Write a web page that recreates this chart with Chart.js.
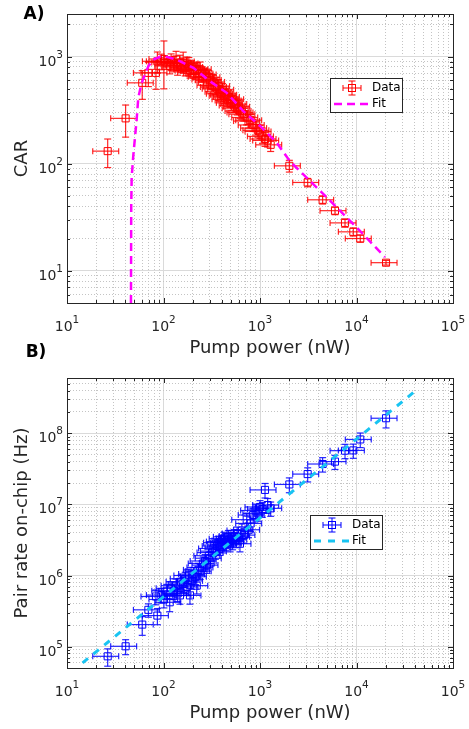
<!DOCTYPE html>
<html>
<head>
 <title>CAR and pair rate vs pump power</title>
 <script src="https://cdn.jsdelivr.net/npm/chart.js"></script>
 <style>
  body { margin: 0; background: #fff; }
  canvas { position: absolute; left: 0; }
  #carChart { top: 0; }
  #rateChart { top: 336px; }
 </style>
</head>
<body>
 <canvas id="carChart" width="469" height="364"></canvas>
 <canvas id="rateChart" width="469" height="393"></canvas>

 <script>
  // Pump power (nW), same measurements in both panels
  const pumpPower = [26.4, 40.5, 60.2, 69.7, 83.5, 86.4, 95, 101, 108, 116, 120, 128, 135, 140, 148, 152, 160, 168, 175, 183,
   188, 195, 205, 214, 221, 230, 240, 250, 258, 270, 282, 295, 305, 318, 330, 345, 360, 372, 385, 398,
   410, 425, 440, 455, 470, 490, 505, 520, 540, 560, 580, 600, 620, 650, 680, 728, 760, 800, 850, 900,
   950, 1000, 1060, 1127, 1200, 1290, 2014, 3119, 4456, 5984, 7603, 9270, 10940, 20230];
  const pumpRelErr = 0.3;   // horizontal error bars are +-30 %

  // Panel A: coincidence-to-accidental ratio
  const car = [131, 265, 569, 705, 705, 904, 904, 950, 880, 820, 900, 860, 940, 800, 880, 830, 900, 780, 860, 820,
   740, 800, 760, 740, 760, 700, 760, 690, 650, 680, 610, 640, 600, 540, 580, 520, 500, 530, 470, 450,
   490, 430, 440, 400, 420, 390, 370, 400, 350, 360, 330, 340, 310, 300, 290, 270, 250, 255, 230, 215,
   205, 200, 180, 170, 165, 150, 95.5, 66.8, 46, 36.4, 28, 23.1, 20, 11.9];
  const carErr = [39, 88, 170, 180, 210, 200, 150, 450, 120, 130, 160, 140, 180, 130, 150, 120, 200, 120, 130, 160,
   110, 120, 130, 110, 120, 120, 130, 110, 110, 100, 100, 100, 100, 90, 90, 80, 80, 80, 70, 70,
   70, 65, 60, 60, 60, 55, 55, 55, 50, 50, 45, 45, 45, 40, 40, 40, 35, 35, 30, 30,
   28, 28, 25, 25, 22, 20, 12, 6, 4, 3, 2.5, 2, 1.5, 0.6];
  const carFitX = [46.0, 46.3, 46.8, 48.6, 52.7, 54.8, 59.4, 69.7, 78.3, 92, 105, 137, 204, 303, 452, 671, 1000, 1489, 2047, 4355, 10000, 19700];
  const carFitY = [5, 40, 74.5, 118, 259, 413, 569, 813, 938, 995, 1000, 938, 785, 589, 459, 310, 225, 157, 105, 54, 25.5, 13.4];

  // Panel B: on-chip pair rate (Hz)
  const pairRate = [7.3e4, 1.01e5, 2.04e5, 3.29e5, 5.07e5, 2.73e5, 5.3e5, 4.6e5, 6.1e5, 4.2e5, 6.6e5, 6.0e5, 7.2e5, 5.6e5, 5.25e5, 8.2e5, 7.6e5, 9.0e5, 6.9e5, 1.0e6,
   5.25e5, 8.4e5, 1.05e6, 9.6e5, 7.2e5, 1.2e6, 1.15e6, 1.3e6, 1.48e6, 1.6e6, 1.4e6, 1.9e6, 1.75e6, 2.1e6, 2.4e6, 2.2e6, 2.6e6, 2.9e6, 2.5e6, 3.0e6,
   2.7e6, 3.3e6, 2.9e6, 3.1e6, 3.5e6, 2.8e6, 3.3e6, 3.0e6, 3.6e6, 3.2e6, 3.9e6, 3.5e6, 2.8e6, 4.3e6, 3.7e6, 6.1e6, 4.4e6, 5.4e6, 7.1e6, 8.2e6,
   7.5e6, 9.2e6, 8.6e6, 1.6e7, 9.8e6, 8.8e6, 1.91e7, 2.67e7, 3.7e7, 4.0e7, 5.7e7, 5.75e7, 8.2e7, 1.63e8];
  const pairRateErr = [2.0e4, 2.4e4, 6e4, 7e4, 1.2e5, 7e4, 1.2e5, 1.1e5, 1.4e5, 1.1e5, 1.5e5, 1.4e5, 1.7e5, 1.3e5, 1.3e5, 1.9e5, 1.8e5, 2.1e5, 1.6e5, 2.3e5,
   1.3e5, 2e5, 2.4e5, 2.2e5, 1.7e5, 2.8e5, 2.7e5, 3e5, 3.4e5, 3.7e5, 3.3e5, 4.4e5, 4e5, 4.9e5, 5.5e5, 5.1e5, 6e5, 6.7e5, 5.8e5, 7e5,
   6.2e5, 7.6e5, 6.7e5, 7.2e5, 8e5, 6.5e5, 7.6e5, 7e5, 8.3e5, 7.4e5, 9e5, 8e5, 6.5e5, 1e6, 8.5e5, 1.4e6, 1e6, 1.25e6, 1.6e6, 1.9e6,
   1.7e6, 2.1e6, 2e6, 3.7e6, 2.3e6, 2e6, 4.5e6, 6e6, 8.5e6, 9e6, 1.3e7, 1.3e7, 1.9e7, 4.4e7];
  const rateFitX = [14.5, 38800];
  const rateFitY = [5.9e4, 3.74e8];

  // decade exponents that get a "10^n" label
  const xDecades = [1, 2, 3, 4, 5];
  const carDecades = [1, 2, 3];
  const rateDecades = [5, 6, 7, 8];

  const FONT = '"DejaVu Sans", Verdana, sans-serif';
  const AXIS_COLOR = '#262626';

  // 1..9 x 10^n between min and max
  function logTicks(min, max) {
   const out = [];
   for (let e = Math.floor(Math.log10(min)); e <= Math.ceil(Math.log10(max)); e++) {
    for (let m = 1; m < 10; m++) {
     const v = m * Math.pow(10, e);
     if (v >= min * 0.9999 && v <= max * 1.0001) out.push({ value: v, major: m === 1 });
    }
   }
   return out;
  }

  function line(ctx, x0, y0, x1, y1) {
   ctx.beginPath(); ctx.moveTo(x0, y0); ctx.lineTo(x1, y1); ctx.stroke();
  }

  function drawPow(ctx, exp, x, y, align) {
   ctx.font = '14px ' + FONT;
   const wb = ctx.measureText('10').width;
   ctx.font = '10.5px ' + FONT;
   const ws = ctx.measureText(String(exp)).width;
   const left = align === 'center' ? x - (wb + ws) / 2 : x - wb - ws;
   ctx.textAlign = 'left';
   ctx.textBaseline = 'alphabetic';
   ctx.fillStyle = AXIS_COLOR;
   ctx.font = '14px ' + FONT;
   ctx.fillText('10', left, y);
   ctx.font = '10.5px ' + FONT;
   ctx.fillText(String(exp), left + wb, y - 8);
  }

  function errorBar(ctx, px, py, x0, x1, y0, y1) {
   line(ctx, x0, py, x1, py);
   line(ctx, x0, py - 3, x0, py + 3);
   line(ctx, x1, py - 3, x1, py + 3);
   line(ctx, px, y0, px, y1);
   line(ctx, px - 3.5, y0, px + 3.5, y0);
   line(ctx, px - 3.5, y1, px + 3.5, y1);
  }

  function panelPlugin(p) {
   return {
    id: 'panel',
    beforeDatasetsDraw(chart) {
     const { ctx, chartArea: a, scales: { x, y } } = chart;
     ctx.save();
     ctx.beginPath(); ctx.rect(a.left, a.top, a.right - a.left, a.bottom - a.top); ctx.clip();
     ctx.strokeStyle = p.barColor;
     ctx.lineWidth = 1.2;
     p.values.forEach((v, i) => {
      const xv = pumpPower[i];
      errorBar(ctx,
       x.getPixelForValue(xv), y.getPixelForValue(v),
       x.getPixelForValue(xv * (1 - pumpRelErr)), x.getPixelForValue(xv * (1 + pumpRelErr)),
       y.getPixelForValue(v - p.errors[i]), y.getPixelForValue(v + p.errors[i]));
     });
     ctx.restore();
    },
    afterDraw(chart) {
     const { ctx, chartArea: a, scales: { x, y } } = chart;
     ctx.save();
     // box and inward tick marks
     ctx.strokeStyle = AXIS_COLOR;
     ctx.lineWidth = 1;
     ctx.strokeRect(Math.round(a.left) + 0.5, Math.round(a.top) + 0.5, Math.round(a.right - a.left), Math.round(a.bottom - a.top));
     x.ticks.forEach(t => {
      const px = Math.round(x.getPixelForValue(t.value)) + 0.5, len = t.major ? 5 : 3;
      line(ctx, px, a.bottom, px, a.bottom - len);
      line(ctx, px, a.top, px, a.top + len);
     });
     y.ticks.forEach(t => {
      const py = Math.round(y.getPixelForValue(t.value)) + 0.5, len = t.major ? 5 : 3;
      line(ctx, a.left, py, a.left + len, py);
      line(ctx, a.right, py, a.right - len, py);
     });
     // tick labels
     xDecades.forEach(e => drawPow(ctx, e, x.getPixelForValue(Math.pow(10, e)), a.bottom + 28, 'center'));
     p.yDecades.forEach(e => drawPow(ctx, e, a.left - 4, y.getPixelForValue(Math.pow(10, e)) + 9, 'right'));
     // axis titles
     ctx.fillStyle = AXIS_COLOR;
     ctx.font = '18px ' + FONT;
     ctx.textAlign = 'center';
     ctx.textBaseline = 'middle';
     ctx.fillText('Pump power (nW)', 270, a.bottom + 45);
     ctx.save();
     ctx.translate(22, (a.top + a.bottom) / 2);
     ctx.rotate(-Math.PI / 2);
     ctx.fillText(p.yTitle, 0, 0);
     ctx.restore();
     // panel letter
     ctx.fillStyle = '#000';
     ctx.font = 'bold 17px ' + FONT;
     ctx.fillText(p.letter, p.letterPos[0], p.letterPos[1]);
     // legend
     const lg = p.legend;
     ctx.fillStyle = '#fff';
     ctx.fillRect(lg.x, lg.y, 72, 34);
     ctx.strokeStyle = AXIS_COLOR;
     ctx.strokeRect(lg.x + 0.5, lg.y + 0.5, 72, 34);
     const mx = lg.x + 22, my = lg.y + 10;
     ctx.strokeStyle = p.barColor;
     ctx.lineWidth = 1.2;
     errorBar(ctx, mx, my, mx - 9, mx + 9, my - 7, my + 7);
     ctx.strokeStyle = p.color;
     ctx.lineWidth = 1;
     ctx.strokeRect(mx - 3.5, my - 3.5, 7, 7);
     ctx.strokeStyle = p.fitColor;
     ctx.lineWidth = p.fitWidth;
     ctx.setLineDash(p.fitDash);
     line(ctx, lg.x + 4, my + 16, lg.x + 40, my + 16);
     ctx.setLineDash([]);
     ctx.fillStyle = '#000';
     ctx.font = '12px ' + FONT;
     ctx.textAlign = 'left';
     ctx.fillText('Data', lg.x + 42, my);
     ctx.fillText('Fit', lg.x + 42, my + 16);
     ctx.restore();
    }
   };
  }

  function logAxis(min, max) {
   return {
    type: 'logarithmic',
    min: min,
    max: max,
    afterBuildTicks: scale => { scale.ticks = logTicks(min, max); },
    ticks: { display: false },
    grid: {
     drawTicks: false,
     lineWidth: 1,
     color: c => (c.tick && c.tick.major) ? '#dadada' : '#c4c4c4'
    },
    border: {
     display: false,
     dash: c => (c.tick && c.tick.major) ? [] : [1, 2]
    }
   };
  }

  function makePanel(id, p) {
   const points = pumpPower.map((v, i) => ({ x: v, y: p.values[i] }));
   const fit = p.fitX.map((v, i) => ({ x: v, y: p.fitY[i] }));
   return new Chart(document.getElementById(id), {
    type: 'scatter',
    data: {
     datasets: [
      {
       type: 'line', label: 'Fit', data: fit,
       borderColor: p.fitColor, borderWidth: p.fitWidth, borderDash: p.fitDash,
       pointRadius: 0, fill: false, tension: 0
      },
      {
       label: 'Data', data: points, pointStyle: 'rect', pointRadius: 5,
       borderColor: p.color, backgroundColor: 'rgba(0,0,0,0)', pointBorderWidth: 1
      }
     ]
    },
    options: {
     responsive: false,
     animation: false,
     layout: { padding: p.padding },
     scales: { x: logAxis(10, 1e5), y: logAxis(p.yMin, p.yMax) },
     plugins: { legend: { display: false }, tooltip: { enabled: false } }
    },
    plugins: [panelPlugin(p)]
   });
  }

  makePanel('carChart', {
   values: car, errors: carErr, fitX: carFitX, fitY: carFitY,
   yMin: 5, yMax: 2500, yDecades: carDecades, yTitle: 'CAR',
   color: '#ff0000', barColor: 'rgba(255,0,0,0.85)',
   fitColor: '#ff00ff', fitWidth: 2.5, fitDash: [8, 5],
   padding: { left: 67, right: 16, top: 14, bottom: 61 },
   letter: 'A)', letterPos: [34, 15],
   legend: { x: 330, y: 78 }
  });

  makePanel('rateChart', {
   values: pairRate, errors: pairRateErr, fitX: rateFitX, fitY: rateFitY,
   yMin: 5e4, yMax: 6e8, yDecades: rateDecades, yTitle: 'Pair rate on-chip (Hz)',
   color: '#0000ff', barColor: 'rgba(0,0,255,0.85)',
   fitColor: '#18c4f2', fitWidth: 3, fitDash: [7, 7],
   padding: { left: 67, right: 16, top: 42, bottom: 61 },
   letter: 'B)', letterPos: [36, 17],
   legend: { x: 310, y: 179 }
  });
 </script>
</body>
</html>
